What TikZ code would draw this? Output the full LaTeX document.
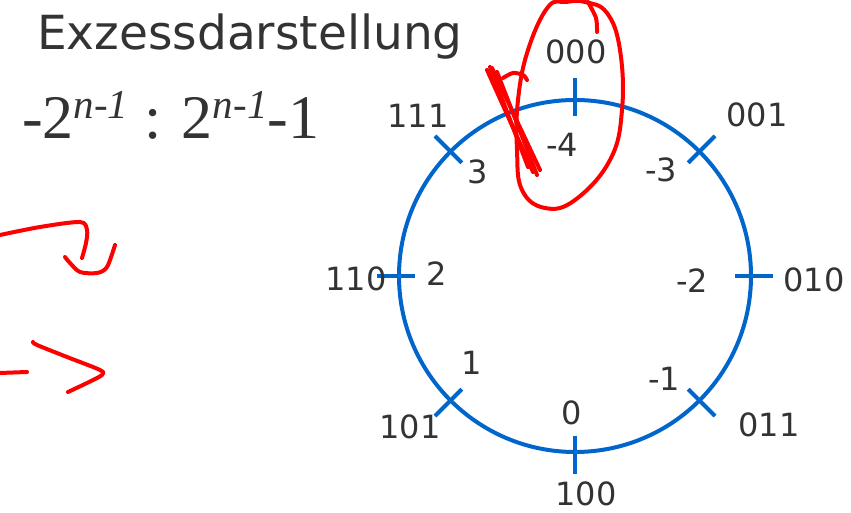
\documentclass[tikz,border=0pt]{standalone}
\usepackage{fontspec}
\setmainfont{DejaVu Sans}
\newfontfamily\timesfont{Liberation Serif}
\usepackage{xcolor}
\usetikzlibrary{positioning}
\definecolor{txt}{HTML}{333333}
\definecolor{ringblue}{HTML}{0066CC}
\definecolor{inkred}{HTML}{FF0000}
\newcommand{\supr}[1]{\raisebox{20pt}{\fontsize{41}{41}\selectfont\itshape #1}}

\begin{document}
\begin{tikzpicture}[
  x=1pt, y=1pt,
  ring/.style={draw=ringblue, line width=4pt},
  tick/.style={draw=ringblue, line width=4pt},
  bin/.style={text=txt, font=\fontsize{32}{32}\selectfont, inner sep=0pt},
  val/.style={text=txt, font=\fontsize{32}{32}\selectfont, inner sep=0pt},
  ttl/.style={text=txt, font=\fontsize{47}{47}\selectfont, inner sep=0pt, anchor=west},
  frm/.style={text=txt, font=\timesfont\fontsize{62}{62}\selectfont, inner sep=0pt, anchor=west},
  ink/.style={draw=inkred, line width=4pt, line cap=round, line join=round},
]
\useasboundingbox (0,0) rectangle (851,513);
% ================= header =================
\node[ttl] (title) at (37,476) {Exzessdarstellung};
\node[frm] (range) at (22,398) {-2\supr{n-1} : 2\supr{n-1}-1};
% ================= ring =================
\coordinate (c) at (575,237);
\draw[ring] (c) circle[radius=176];
\foreach \a in {90,45,0,-45,-90,-135,180,135}
  \draw[tick, shift={(c)}] (\a:160) -- (\a:198);
% binary codes (outside)
\node[bin] (b000) at (576,461) {000};
\node[bin] (b001) at (757,398) {001};
\node[bin] (b010) at (814,233) {010};
\node[bin] (b011) at (769,88) {011};
\node[bin] (b100) at (586,19) {100};
\node[bin] (b101) at (410,86) {101};
\node[bin] (b110) at (356,234) {110};
\node[bin] (b111) at (418,397) {111};
% values (inside)
\node[val] (vm4) at (562,368) {-4};
\node[val] (vm3) at (661,343) {-3};
\node[val] (vm2) at (692,232) {-2};
\node[val] (vm1) at (664,134) {-1};
\node[val] (v0) at (572,100) {0};
\node[val] (v1) at (472,150) {1};
\node[val] (v2) at (437,239) {2};
\node[val] (v3) at (478,341) {3};
% ================= red notes =================
\draw[ink] plot[smooth cycle, tension=0.7] coordinates {(548,506) (528,463) (518,413) (517,363) (522,323) (545,305) (575,313) (610,353) (622,403) (620,463) (607,500) (585,511) (566,511)};
\draw[ink] plot[smooth] coordinates {(597,481) (596,495) (588,511)};
\draw[ink] (487,443) -- (533,341);
\draw[ink] (492,445) -- (540,343);
\draw[ink] (497,441) -- (537,338);
\draw[ink] (490,446) -- (528,346);
\draw[ink] plot[smooth] coordinates {(503,435) (513,440) (523,438) (527,433)};
\draw[ink] plot[smooth] coordinates {(0,278) (40,286) (80,291) (87,283) (86,270) (82,255)};
\draw[ink] plot[smooth] coordinates {(65,256) (70,250) (80,241) (97,240) (107,246) (115,268)};
\draw[ink] plot[smooth] coordinates {(33,171) (37,168) (67,156) (100,143) (102,138) (87,130) (68,121)};
\draw[ink] (0,140) -- (27,141);
\end{tikzpicture}
\end{document}
